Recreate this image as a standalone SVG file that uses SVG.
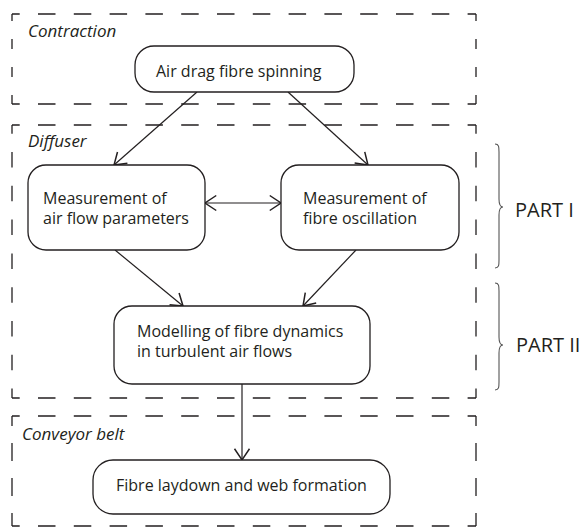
<svg xmlns="http://www.w3.org/2000/svg" width="580" height="530" viewBox="0 0 580 530">
<style>
.bg{fill:#ffffff}
.hd{stroke:#231f20;stroke-width:1.3;fill:none;stroke-dasharray:17.5 18.3;stroke-dashoffset:9.8}
.node rect{fill:#ffffff;stroke:#231f20;stroke-width:1.3}
.t{font-family:"Open Sans","Liberation Sans",sans-serif;font-size:16px;fill:#231f20}
.lab{font-family:"Open Sans","Liberation Sans",sans-serif;font-size:17px;font-style:italic;fill:#231f20}
.part{font-family:"Open Sans","Liberation Sans",sans-serif;font-size:20px;fill:#231f20}
.conn line{stroke:#231f20;stroke-width:1.2;fill:none}
.brace{stroke:#555555;stroke-width:1.1;fill:none}
</style>
<defs>
<marker id="ah" markerUnits="userSpaceOnUse" markerWidth="20" markerHeight="20" viewBox="-12 -8 14 16" refX="0" refY="0" orient="auto-start-reverse">
<path d="M-9,-6 L0,0 L-9,6" fill="none" stroke="#231f20" stroke-width="1.2"/>
</marker>
</defs>
<rect class="bg" x="0" y="0" width="580" height="530"/>

<g id="zone-contraction">
<line class="hd" x1="12" y1="14" x2="476" y2="14"/>
<line class="hd" x1="12" y1="104" x2="476" y2="104"/>
<line class="hd" x1="12" y1="14" x2="12" y2="104" style="stroke-dasharray:10 18;stroke-dashoffset:3"/>
<line class="hd" x1="476" y1="14" x2="476" y2="104" style="stroke-dasharray:10 18;stroke-dashoffset:3"/>
<text class="lab" x="28" y="37">Contraction</text>
</g>

<g id="zone-diffuser">
<line class="hd" x1="12" y1="125" x2="476" y2="125"/>
<line class="hd" x1="12" y1="398" x2="476" y2="398"/>
<line class="hd" x1="12" y1="125" x2="12" y2="398" style="stroke-dasharray:15.5 18.3;stroke-dashoffset:6.8"/>
<line class="hd" x1="476" y1="125" x2="476" y2="398" style="stroke-dasharray:15.5 18.3;stroke-dashoffset:6.8"/>
<text class="lab" x="28" y="147">Diffuser</text>
</g>

<g id="zone-conveyor">
<line class="hd" x1="12" y1="416" x2="476" y2="416"/>
<line class="hd" x1="12" y1="526" x2="476" y2="526"/>
<line class="hd" x1="12" y1="416" x2="12" y2="526" style="stroke-dasharray:18 17;stroke-dashoffset:8"/>
<line class="hd" x1="476" y1="416" x2="476" y2="526" style="stroke-dasharray:18 17;stroke-dashoffset:8"/>
<text class="lab" x="22" y="440">Conveyor belt</text>
</g>

<g id="connectors" class="conn">
<line x1="197" y1="92" x2="114" y2="165" marker-end="url(#ah)"/>
<line x1="288" y1="92" x2="368" y2="165" marker-end="url(#ah)"/>
<line x1="205" y1="203" x2="281" y2="203" marker-start="url(#ah)" marker-end="url(#ah)"/>
<line x1="115" y1="250" x2="183" y2="306" marker-end="url(#ah)"/>
<line x1="356" y1="250" x2="303" y2="306" marker-end="url(#ah)"/>
<line x1="242" y1="384" x2="242" y2="460" marker-end="url(#ah)"/>
</g>

<g id="node-spinning" class="node">
<rect x="135" y="46" width="219" height="46" rx="19"/>
<text class="t" x="156" y="77">Air drag fibre spinning</text>
</g>

<g id="node-airflow" class="node">
<rect x="28" y="165" width="177" height="85" rx="18"/>
<text class="t" x="43" y="204">Measurement of</text>
<text class="t" x="43" y="224">air flow parameters</text>
</g>

<g id="node-oscillation" class="node">
<rect x="281" y="165" width="178" height="85" rx="18"/>
<text class="t" x="303" y="204">Measurement of</text>
<text class="t" x="303" y="224">fibre oscillation</text>
</g>

<g id="node-modelling" class="node">
<rect x="114" y="306" width="256" height="78" rx="18"/>
<text class="t" x="137" y="337">Modelling of fibre dynamics</text>
<text class="t" x="137" y="357">in turbulent air flows</text>
</g>

<g id="node-laydown" class="node">
<rect x="93" y="460" width="297" height="54" rx="20"/>
<text class="t" x="116" y="491">Fibre laydown and web formation</text>
</g>

<g id="brace-part1">
<path class="brace" d="M495,144 C499,144 499,147 499,152 L499,199 C499,204 500,207 503,207 C500,207 499,210 499,215 L499,260 C499,265 499,268 495,268"/>
<text class="part" x="515" y="217">PART I</text>
</g>

<g id="brace-part2">
<path class="brace" d="M495,283 C499,283 499,286 499,291 L499,337 C499,342 500,345 503,345 C500,345 499,348 499,353 L499,382 C499,387 499,390 495,390"/>
<text class="part" x="516" y="352">PART II</text>
</g>
</svg>
